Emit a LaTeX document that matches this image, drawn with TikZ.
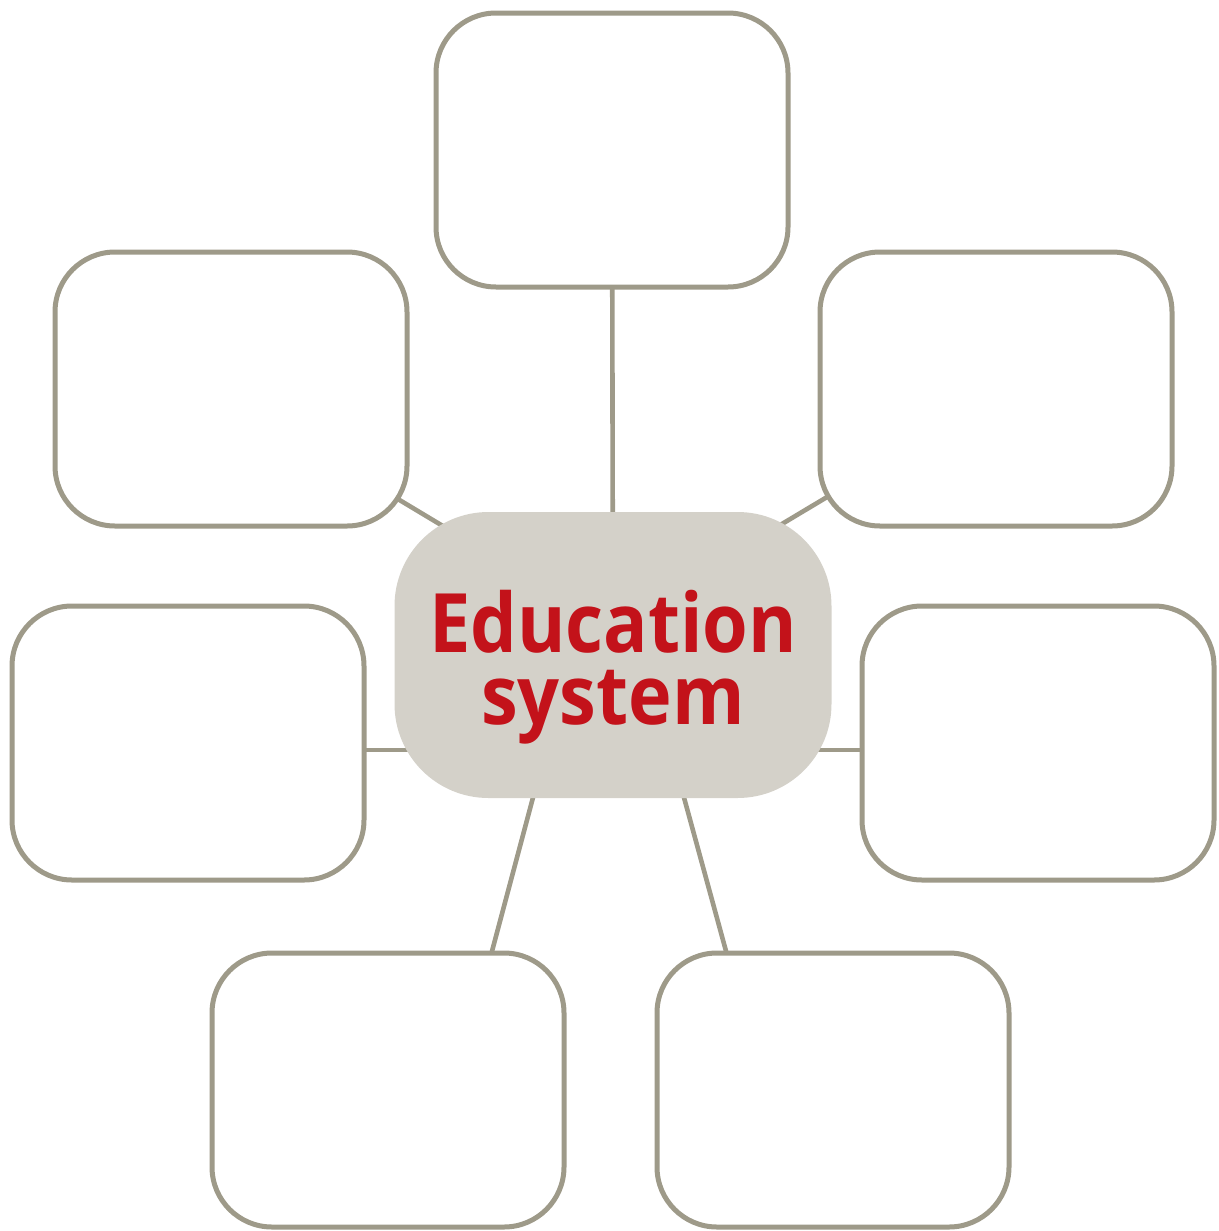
\documentclass[tikz,border=0pt]{standalone}
\usepackage{fontspec}
\setmainfont{Open Sans}
\newfontfamily\hubfont{Open Sans}[FakeStretch=0.9]
\usetikzlibrary{calc,backgrounds}
\definecolor{boxline}{HTML}{9E9A89}
\definecolor{hubfill}{HTML}{D4D1C9}
\definecolor{hubtext}{HTML}{C3121A}
\tikzset{
  leaf/.style={draw=boxline, line width=2.5pt, fill=white, rounded corners=30pt,
    minimum width=176pt, minimum height=137pt, inner sep=0pt},
  hub/.style={fill=hubfill, rounded corners=47pt, minimum width=218.5pt,
    minimum height=143pt, inner sep=0pt},
  hubtxt/.style={inner sep=0pt, align=center, text=hubtext,
    font=\hubfont\fontsize{41pt}{36pt}\selectfont\bfseries},
  link/.style={draw=boxline, line width=2.3pt}
}
\begin{document}
\begin{tikzpicture}[x=0.5pt,y=-0.5pt]
\useasboundingbox (0,0) rectangle (1219,1231);
\node[hub] (c) at (613,655) {};
\node[hubtxt] (lbl) at ($(c.center)+(0,12)$) {Education\\system};
\node[leaf] (t) at (612,150) {};
\node[leaf] (ul) at (231,389) {};
\node[leaf] (ur) at (996,389) {};
\node[leaf] (ml) at (188,743) {};
\node[leaf] (mr) at (1038,743) {};
\node[leaf] (bl) at (388,1090) {};
\node[leaf] (br) at (833,1090) {};
\begin{scope}[on background layer]
\draw[link] (c.center) -- (t.center);
\draw[link] ($(c.center)+(0,-27)$) -- ($(ul.center)+(0,10)$);
\draw[link] ($(c.center)+(0,-30)$) -- ($(ur.center)+(0,7)$);
\draw[link] ($(c.center)+(0,95)$) -- ($(ml.center)+(0,7)$);
\draw[link] ($(c.center)+(0,95)$) -- ($(mr.center)+(0,7)$);
\draw[link] ($(c.center)+(-42,0)$) -- ($(bl.center)+(67,0)$);
\draw[link] ($(c.center)+(32,0)$) -- ($(br.center)+(-69,0)$);
\end{scope}
\end{tikzpicture}
\end{document}
